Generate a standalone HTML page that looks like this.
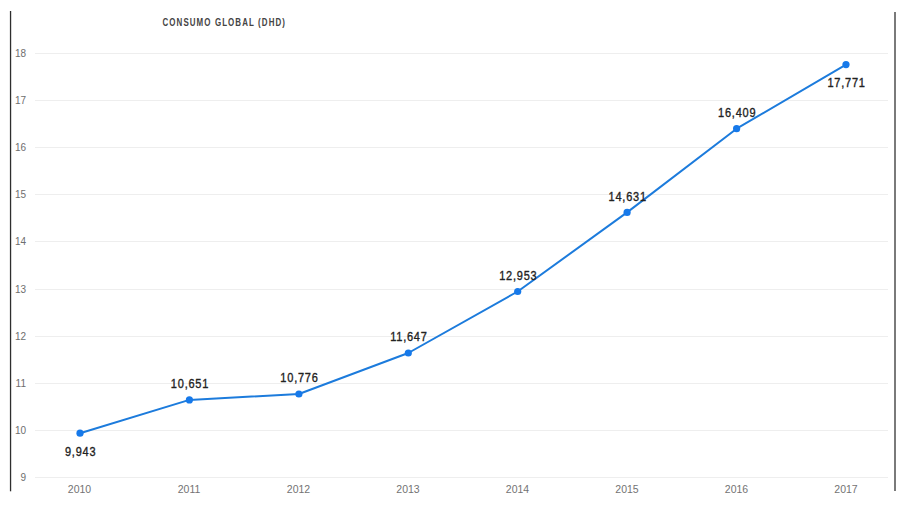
<!DOCTYPE html>
<html><head><meta charset="utf-8">
<style>
html,body{margin:0;padding:0;background:#fff;}
body{width:900px;height:506px;overflow:hidden;position:relative;font-family:"Liberation Sans",sans-serif;}
svg{position:absolute;left:0;top:0;}
</style></head>
<body>
<svg width="900" height="506" viewBox="0 0 900 506" xmlns="http://www.w3.org/2000/svg">
  <!-- side borders -->
  <rect x="9.9" y="11" width="1.3" height="480.3" fill="#2e2e2e"/>
  <rect x="894" y="12" width="2" height="479" fill="#7a7a7a"/>
  <!-- title -->
  <text transform="translate(162.5,26.4) scale(0.75,1)" font-family="Liberation Sans, sans-serif" font-weight="bold" font-size="10.6" fill="#444" letter-spacing="1.45">CONSUMO GLOBAL (DHD)</text>
  <!-- gridlines -->
  <g stroke="#eeeeee" stroke-width="1">
    <line x1="35" x2="888" y1="53.5" y2="53.5"/>
    <line x1="35" x2="888" y1="100.5" y2="100.5"/>
    <line x1="35" x2="888" y1="147.5" y2="147.5"/>
    <line x1="35" x2="888" y1="194.5" y2="194.5"/>
    <line x1="35" x2="888" y1="241.5" y2="241.5"/>
    <line x1="35" x2="888" y1="289.5" y2="289.5"/>
    <line x1="35" x2="888" y1="336.5" y2="336.5"/>
    <line x1="35" x2="888" y1="383.5" y2="383.5"/>
    <line x1="35" x2="888" y1="430.5" y2="430.5"/>
    <line x1="35" x2="888" y1="477.5" y2="477.5"/>
  </g>
  <!-- y labels -->
  <g font-family="Liberation Sans, sans-serif" font-size="10" fill="#6e6e6e" text-anchor="end">
    <text x="26" y="57.2">18</text>
    <text x="26" y="104.2">17</text>
    <text x="26" y="151.2">16</text>
    <text x="26" y="198.2">15</text>
    <text x="26" y="245.2">14</text>
    <text x="26" y="293.2">13</text>
    <text x="26" y="340.2">12</text>
    <text x="26" y="387.2">11</text>
    <text x="26" y="434.2">10</text>
    <text x="26" y="481.2">9</text>
  </g>
  <!-- x labels -->
  <g font-family="Liberation Sans, sans-serif" font-size="10.5" fill="#737373" text-anchor="middle">
    <text x="79.5" y="492.5">2010</text>
    <text x="189" y="492.5">2011</text>
    <text x="298.5" y="492.5">2012</text>
    <text x="408" y="492.5">2013</text>
    <text x="517.5" y="492.5">2014</text>
    <text x="627" y="492.5">2015</text>
    <text x="736.5" y="492.5">2016</text>
    <text x="846" y="492.5">2017</text>
  </g>
  <!-- line -->
  <polyline fill="none" stroke="#1c7bdc" stroke-width="2" stroke-linejoin="round"
    points="80.0,433.2 189.4,399.9 298.9,394.0 408.3,353.0 517.7,291.5 627.1,212.4 736.6,128.7 846.0,64.6"/>
  <g fill="#1679ea">
    <circle cx="80.0" cy="433.2" r="3.6"/>
    <circle cx="189.4" cy="399.9" r="3.6"/>
    <circle cx="298.9" cy="394.0" r="3.6"/>
    <circle cx="408.3" cy="353.0" r="3.6"/>
    <circle cx="517.7" cy="291.5" r="3.6"/>
    <circle cx="627.1" cy="212.4" r="3.6"/>
    <circle cx="736.6" cy="128.7" r="3.6"/>
    <circle cx="846.0" cy="64.6" r="3.6"/>
  </g>
  <!-- data labels -->
  <g font-family="Liberation Sans, sans-serif" font-weight="normal" font-size="12.8" fill="#222" stroke="#222" stroke-width="0.35" text-anchor="middle" letter-spacing="0.9">
    <text transform="translate(80.6,455.7) scale(0.86,1)">9,943</text>
    <text transform="translate(190.0,388.1) scale(0.86,1)">10,651</text>
    <text transform="translate(299.5,382.2) scale(0.86,1)">10,776</text>
    <text transform="translate(408.9,341.2) scale(0.86,1)">11,647</text>
    <text transform="translate(518.3,279.7) scale(0.86,1)">12,953</text>
    <text transform="translate(627.7,200.6) scale(0.86,1)">14,631</text>
    <text transform="translate(737.2,116.9) scale(0.86,1)">16,409</text>
    <text transform="translate(846.6,87.1) scale(0.86,1)">17,771</text>
  </g>
</svg>
</body></html>
